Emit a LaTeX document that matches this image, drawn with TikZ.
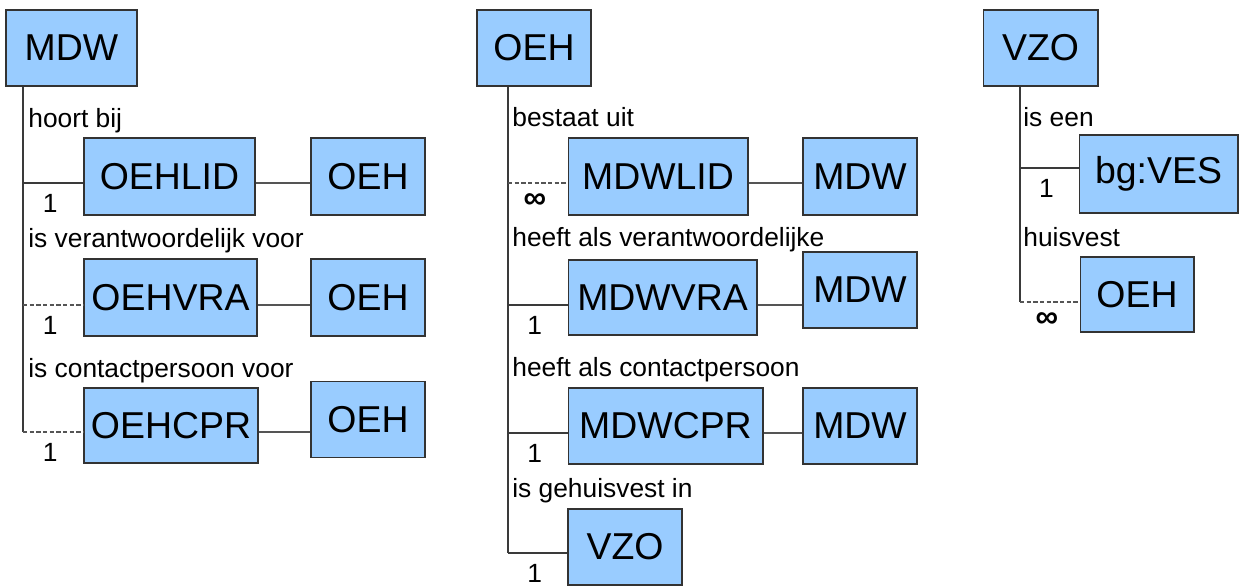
\documentclass[tikz,border=0pt]{standalone}
\usepackage{fontspec}
\setmainfont{Liberation Sans}
\usetikzlibrary{calc}

\definecolor{boxfill}{HTML}{99CCFF}
\definecolor{boxline}{HTML}{333333}
\definecolor{wire}{HTML}{3A3A3A}
\definecolor{linkgray}{HTML}{555555}

\begin{document}
\begin{tikzpicture}[x=0.02cm,y=-0.02cm,
                    entity/.style={draw=boxline,fill=boxfill,line width=0.6pt,
                      inner sep=0pt,minimum width=2.28cm,minimum height=1.52cm,
                      font=\fontsize{21.3}{25}\selectfont},
                    rel/.style={anchor=base west,inner sep=0pt,
                      font=\fontsize{15}{18}\selectfont},
                    card/.style={below=5pt,pos=0.45,inner sep=1pt,
                      font=\fontsize{15}{18}\selectfont},
                    many/.style={card,font=\fontsize{18}{20}\bfseries},
                    trunk/.style={draw=wire,line width=0.6pt},
                    opt/.style={draw=linkgray,line width=0.6pt,dash pattern=on 2.4pt off 1.4pt},
                    link/.style={draw=linkgray,line width=0.6pt}]
\useasboundingbox (0,0) rectangle (1239,587);

% MDW
\node[entity,minimum width=2.62cm] (MDW) at (71.5,48) {MDW};
\node[entity,minimum width=3.42cm,minimum height=1.54cm] (OEHLID) at (169.5,176.5) {OEHLID};
\node[entity,minimum height=1.54cm] (OEHa) at (368,176.5) {OEH};
\node[entity,minimum width=3.46cm,minimum height=1.54cm] (OEHVRA) at (170.5,297.5) {OEHVRA};
\node[entity,minimum height=1.54cm] (OEHb) at (368,297.5) {OEH};
\node[entity,minimum width=3.48cm,minimum height=1.5cm] (OEHCPR) at (171,425.5) {OEHCPR};
\node[entity] (OEHc) at (368,419.5) {OEH};

\coordinate (m1) at (23,183);
\coordinate (m2) at (23,305);
\coordinate (m3) at (23,432);

\node[rel] at (28,128) {hoort bij};
\node[rel] at (28,248) {is verantwoordelijk voor};
\node[rel] at (28,377) {is contactpersoon voor};

\draw[trunk] (MDW.south -| m3) -- (m3);
\draw[trunk] (m1) -- node[card] {1} (m1 -| OEHLID.west);
\draw[opt] (m2) -- node[card] {1} (m2 -| OEHVRA.west);
\draw[opt] (m3) -- node[card] {1} (m3 -| OEHCPR.west);
\draw[link] (m1 -| OEHLID.east) -- (m1 -| OEHa.west);
\draw[link] (m2 -| OEHVRA.east) -- (m2 -| OEHb.west);
\draw[link] (m3 -| OEHCPR.east) -- (m3 -| OEHc.west);

% OEH
\node[entity] (OEH) at (534,48) {OEH};
\node[entity,minimum width=3.6cm,minimum height=1.54cm] (MDWLID) at (658,176.5) {MDWLID};
\node[entity,minimum height=1.54cm] (MDWa) at (860,176.5) {MDW};
\node[entity,minimum width=3.78cm,minimum height=1.5cm] (MDWVRA) at (662.5,297.5) {MDWVRA};
\node[entity] (MDWb) at (860,290) {MDW};
\node[entity,minimum width=3.9cm] (MDWCPR) at (665.5,426) {MDWCPR};
\node[entity] (MDWc) at (860,426) {MDW};
\node[entity] (VZOa) at (625,547) {VZO};

\coordinate (o1) at (508,183);
\coordinate (o2) at (508,305);
\coordinate (o3) at (508,433);
\coordinate (o4) at (508,553);

\node[rel] at (512,127) {bestaat uit};
\node[rel] at (512,247) {heeft als verantwoordelijke};
\node[rel] at (512,376) {heeft als contactpersoon};
\node[rel] at (512,497) {is gehuisvest in};

\draw[trunk] (OEH.south -| o4) -- (o4);
\draw[opt] (o1) -- node[many] {∞} (o1 -| MDWLID.west);
\draw[trunk] (o2) -- node[card] {1} (o2 -| MDWVRA.west);
\draw[trunk] (o3) -- node[card] {1} (o3 -| MDWCPR.west);
\draw[trunk] (o4) -- node[card] {1} (o4 -| VZOa.west);
\draw[link] (o1 -| MDWLID.east) -- (o1 -| MDWa.west);
\draw[link] (o2 -| MDWVRA.east) -- (o2 -| MDWb.west);
\draw[link] (o3 -| MDWCPR.east) -- (o3 -| MDWc.west);

% VZO
\node[entity,minimum width=2.3cm] (VZO) at (1040.5,48) {VZO};
\node[entity,minimum width=3.18cm,minimum height=1.56cm] (bgVES) at (1158.5,174) {bg:VES};
\node[entity,minimum height=1.5cm] (OEHd) at (1137,294.5) {OEH};

\coordinate (v1) at (1020,168);
\coordinate (v2) at (1020,302);

\node[rel] at (1023,127) {is een};
\node[rel] at (1023,247) {huisvest};

\draw[trunk] (VZO.south -| v2) -- (v2);
\draw[trunk] (v1) -- node[card] {1} (v1 -| bgVES.west);
\draw[opt] (v2) -- node[many] {∞} (v2 -| OEHd.west);
\end{tikzpicture}
\end{document}
